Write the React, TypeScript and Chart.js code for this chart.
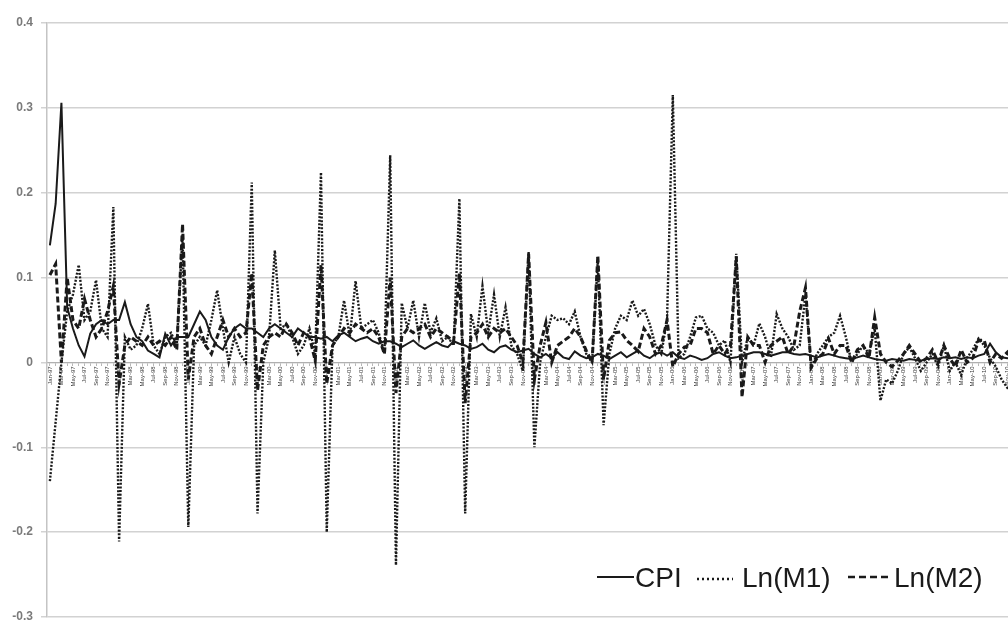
import React, { useEffect, useRef } from "react";
import { Chart, registerables } from "chart.js";

Chart.register(...registerables);

const MONTHS = ["Jan", "Feb", "Mar", "Apr", "May", "Jun", "Jul", "Aug", "Sep", "Oct", "Nov", "Dec"];
const YEARS = ["97", "98", "99", "00", "01", "02", "03", "04", "05", "06", "07", "08", "09", "10"];
const CATEGORIES = YEARS.flatMap((y) => MONTHS.map((m) => `${m}-${y}`));

const Y_TICKS = [-0.3, -0.2, -0.1, 0, 0.1, 0.2, 0.3, 0.4];

const CPI = [
  0.138, 0.187, 0.306, 0.065, 0.04, 0.02, 0.007, 0.034, 0.045, 0.05, 0.045, 0.05,
  0.05, 0.071, 0.045, 0.03, 0.025, 0.014, 0.01, 0.006, 0.034, 0.02, 0.03, 0.03,
  0.03, 0.045, 0.06, 0.05, 0.03, 0.02, 0.015, 0.03, 0.04, 0.045, 0.04, 0.04,
  0.035, 0.03, 0.04, 0.045, 0.04, 0.035, 0.03, 0.04, 0.035, 0.03, 0.03, 0.028,
  0.03, 0.025, 0.032, 0.035, 0.03, 0.025, 0.028, 0.03, 0.025, 0.022, 0.025, 0.025,
  0.022, 0.018, 0.022, 0.026, 0.02, 0.016, 0.02, 0.024, 0.02, 0.018, 0.025, 0.022,
  0.02, 0.016, 0.018, 0.022, 0.015, 0.012, 0.018, 0.02, 0.015, 0.012, 0.014, 0.016,
  0.01, 0.006, 0.01, 0.005, 0.012, 0.006, 0.004, 0.013, 0.008, 0.005, 0.006, 0.01,
  0.008, 0.004, 0.008, 0.012, 0.006, 0.01, 0.014, 0.008, 0.005, 0.01, 0.012, 0.008,
  0.012, 0.006, 0.004, 0.008, 0.006, 0.003, 0.005, 0.01, 0.012, 0.008, 0.005, 0.006,
  0.008, 0.01, 0.012, 0.012, 0.01, 0.008, 0.01, 0.012, 0.012, 0.01, 0.009, 0.01,
  0.008, 0.006, 0.008, 0.01, 0.008, 0.006, 0.005, 0.004, 0.006, 0.008, 0.006, 0.004,
  0.003, 0.002, 0.004, 0.003, 0.002, 0.004, 0.003, 0.002, 0.004, 0.005, 0.004, 0.006,
  0.005, 0.006, 0.004, 0.006, 0.005, 0.008, 0.01, 0.022, 0.012, 0.006, 0.005, 0.006,
];

const LN_M1 = [
  -0.14, -0.07, 0.0, 0.06, 0.08, 0.115, 0.05, 0.06, 0.097, 0.04, 0.03, 0.183,
  -0.211, 0.03, 0.015, 0.02, 0.04, 0.069, 0.02, 0.01, 0.03, 0.035, 0.02, 0.15,
  -0.194, 0.02, 0.03, 0.02, 0.05, 0.085, 0.04, 0.0, 0.03, 0.01, 0.0, 0.212,
  -0.178, 0.0, 0.03, 0.132, 0.04, 0.045, 0.03, 0.01, 0.02, 0.04, 0.01, 0.224,
  -0.2, 0.02, 0.03, 0.073, 0.03, 0.096, 0.04, 0.045, 0.05, 0.035, 0.01, 0.244,
  -0.239, 0.07, 0.04, 0.073, 0.03, 0.07, 0.035, 0.052, 0.025, 0.03, 0.02, 0.193,
  -0.178, 0.057, 0.03, 0.09, 0.035, 0.08, 0.03, 0.065, 0.02, 0.01, -0.01, 0.13,
  -0.1, 0.0, 0.03, 0.055, 0.05, 0.052, 0.045, 0.06, 0.03, 0.01, 0.0, 0.12,
  -0.074, 0.01, 0.04, 0.055, 0.05, 0.073, 0.055, 0.063, 0.045, 0.02, 0.01, 0.05,
  0.315, 0.005, 0.01, 0.03, 0.053, 0.055, 0.04, 0.035, 0.02, 0.026, 0.0, 0.128,
  0.0, 0.03, 0.02, 0.046, 0.03, 0.006, 0.057, 0.04, 0.03, 0.015, 0.02, 0.08,
  -0.006, 0.01, 0.02, 0.03, 0.035, 0.055, 0.03, 0.0, 0.01, 0.02, 0.01, 0.04,
  -0.045, -0.02, -0.025, -0.01, 0.01, 0.018, 0.005, -0.01, 0.0, 0.01, -0.005, 0.02,
  -0.01, 0.0, -0.015, 0.005, 0.015, 0.028, 0.02, 0.005, -0.005, -0.02, -0.03, -0.025,
];

const LN_M2 = [
  0.103, 0.116, 0.0, 0.1, 0.05, 0.04, 0.075, 0.05, 0.03, 0.04, 0.06, 0.09,
  -0.025, 0.02, 0.03, 0.025, 0.02, 0.03, 0.02, 0.025, 0.02, 0.03, 0.015, 0.163,
  -0.02, 0.03, 0.04, 0.02, 0.01, 0.03, 0.05, 0.03, 0.04, 0.03, 0.035, 0.105,
  -0.033, 0.02, 0.03, 0.035, 0.03, 0.045, 0.035, 0.02, 0.035, 0.03, 0.002, 0.115,
  -0.025, 0.02, 0.03, 0.04, 0.035, 0.045, 0.04, 0.035, 0.04, 0.03, 0.01, 0.1,
  -0.036, 0.03, 0.04, 0.035, 0.04, 0.045, 0.03, 0.04, 0.035, 0.03, 0.025, 0.105,
  -0.048, 0.03, 0.035, 0.045, 0.03, 0.04, 0.035, 0.04, 0.03, 0.02, 0.0, 0.128,
  -0.02, 0.02, 0.047, 0.0, 0.02, 0.025, 0.03, 0.04, 0.03, 0.014, 0.0, 0.126,
  -0.02, 0.026, 0.035, 0.036, 0.026, 0.02, 0.013, 0.04, 0.03, 0.01, 0.02, 0.05,
  -0.005, 0.01, 0.018, 0.02, 0.04, 0.04, 0.035, 0.01, 0.02, 0.01, 0.02, 0.125,
  -0.041, 0.03, 0.02, 0.02, 0.0, 0.02, 0.025, 0.03, 0.01, 0.02, 0.06, 0.088,
  -0.006, 0.005, 0.01, 0.028, 0.01, 0.02, 0.02, 0.0, 0.015, 0.02, 0.005, 0.053,
  0.01, 0.0, -0.005, 0.002, 0.01, 0.02, 0.01, 0.0, 0.005, 0.015, 0.0, 0.02,
  0.005, -0.005, 0.015, 0.0, 0.005, 0.026, 0.026, 0.0, 0.01, 0.005, 0.012, 0.0,
];

const SERIES_NAMES = ["CPI", "Ln(M1)", "Ln(M2)"];

const INK = "#1a1a1a";

const legendPlugin = {
  id: "inlineLegend",
  afterDraw(chart: any) {
    const ctx = chart.ctx as CanvasRenderingContext2D;
    const ds = chart.data.datasets;
    ctx.save();
    ctx.strokeStyle = INK;
    ctx.fillStyle = INK;
    ctx.font = '28px "Liberation Sans", Arial, sans-serif';
    ctx.textBaseline = "alphabetic";
    ctx.textAlign = "left";
    const drawSample = (x1: number, x2: number, y: number, w: number, dash: number[]) => {
      ctx.beginPath();
      ctx.lineWidth = w;
      ctx.setLineDash(dash);
      ctx.moveTo(x1, y);
      ctx.lineTo(x2, y);
      ctx.stroke();
    };
    drawSample(597, 634, 577, 2, []);
    ctx.fillText(ds[0].label, 635, 587);
    drawSample(697, 733, 579, 2.5, [2, 3]);
    ctx.fillText(ds[1].label, 742, 587);
    drawSample(848, 892, 577, 2.5, [7, 4]);
    ctx.fillText(ds[2].label, 894, 587);
    ctx.restore();
  },
};

export default function App() {
  const canvasRef = useRef<HTMLCanvasElement | null>(null);

  useEffect(() => {
    document.body.style.margin = "0";
    const canvas = canvasRef.current;
    if (!canvas) return;
    const chart = new Chart(canvas, {
      type: "line",
      data: {
        labels: CATEGORIES,
        datasets: [
          {
            label: SERIES_NAMES[0],
            data: CPI,
            borderColor: INK,
            borderWidth: 2,
            pointRadius: 0,
            tension: 0,
            fill: false,
          },
          {
            label: SERIES_NAMES[1],
            data: LN_M1,
            borderColor: INK,
            borderWidth: 2.4,
            borderDash: [2, 1.6],
            pointRadius: 0,
            tension: 0,
            fill: false,
          },
          {
            label: SERIES_NAMES[2],
            data: LN_M2,
            borderColor: INK,
            borderWidth: 3,
            borderDash: [6, 3],
            pointRadius: 0,
            tension: 0,
            fill: false,
          },
        ],
      },
      options: {
        animation: false,
        responsive: true,
        maintainAspectRatio: false,
        layout: { padding: { top: 23, bottom: 7, left: 0, right: 0 } },
        plugins: {
          legend: { display: false },
          tooltip: { enabled: false },
        },
        scales: {
          x: {
            type: "category",
            position: { y: 0 } as any,
            offset: true,
            afterFit: (scale: any) => {
              scale.paddingLeft = 0;
              scale.paddingRight = 0;
              scale.paddingTop = 0;
              scale.paddingBottom = 0;
            },
            grid: {
              display: true,
              offset: false,
              drawOnChartArea: false,
              drawTicks: true,
              tickLength: 3,
              color: "#b8b8b8",
            },
            border: { display: true, color: "#b0b0b0", width: 1 },
            ticks: {
              autoSkip: false,
              minRotation: 90,
              maxRotation: 90,
              padding: 1,
              color: "#3a3a3a",
              font: { size: 6, family: '"Liberation Sans", Arial, sans-serif' },
              callback: (_v: any, i: number) => (i % 2 === 0 ? CATEGORIES[i] : ""),
            },
          },
          y: {
            min: Y_TICKS[0],
            max: Y_TICKS[Y_TICKS.length - 1],
            afterBuildTicks: (scale: any) => {
              scale.ticks = Y_TICKS.map((v) => ({ value: v }));
            },
            afterFit: (scale: any) => {
              scale.width = 47;
              scale.paddingTop = 0;
              scale.paddingBottom = 0;
              scale.paddingLeft = 0;
              scale.paddingRight = 0;
            },
            grid: {
              color: "#d2d2d2",
              lineWidth: 1.5,
              tickLength: 6,
            },
            border: { display: true, color: "#c4c4c4", width: 1.5 },
            ticks: {
              padding: 8,
              color: "#7a7a7a",
              font: { size: 12, weight: "bold", family: '"Liberation Sans", Arial, sans-serif' },
              callback: (v: any) => String(Number(Number(v).toFixed(1))),
            },
          },
        },
      },
      plugins: [legendPlugin],
    });
    return () => chart.destroy();
  }, []);

  return (
    <div style={{ width: 1008, height: 624, overflow: "hidden", position: "relative" }}>
      <div style={{ width: 1016, height: 624, position: "relative" }}>
        <canvas ref={canvasRef} />
      </div>
    </div>
  );
}
